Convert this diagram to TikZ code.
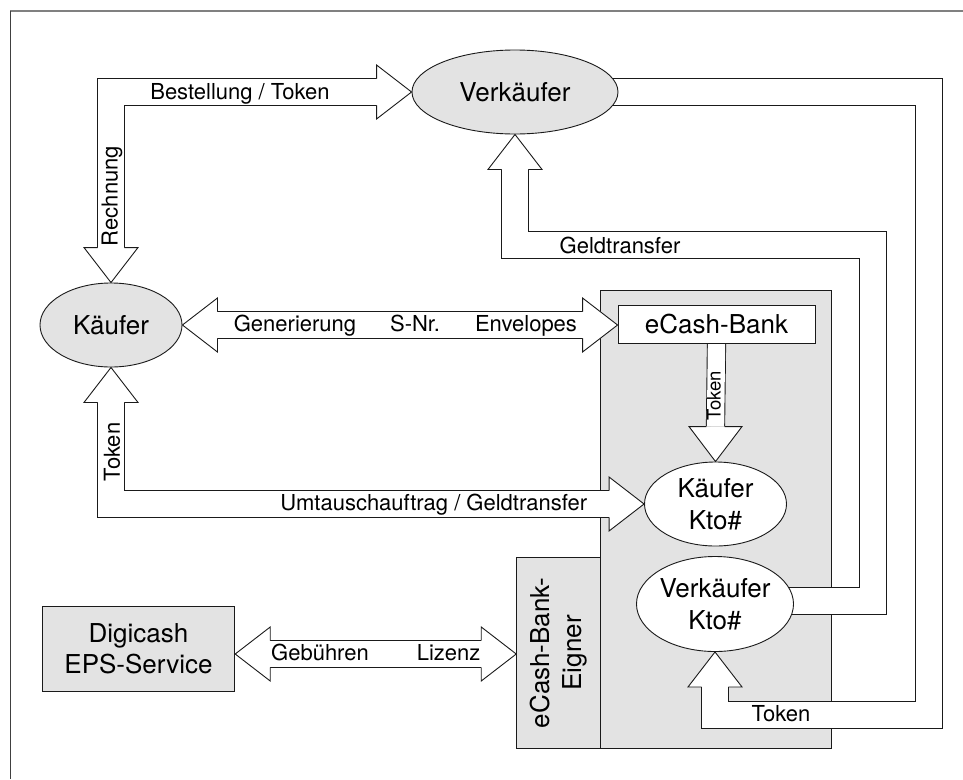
\documentclass[tikz,border=0pt]{standalone}
\usepackage{fontspec}
\setmainfont{TeX Gyre Heros}
\usetikzlibrary{calc,shapes.geometric}
\definecolor{boxgray}{HTML}{E3E3E3}
\definecolor{linecol}{HTML}{1A1A1A}
\newcommand{\lblfont}{\fontsize{22}{26}\selectfont}
\newcommand{\nodefont}{\fontsize{26}{31.5}\selectfont}
\newcommand{\tinyfont}{\fontsize{18.5}{21}\selectfont}
\def\ahl{35}\def\ahh{27}\def\ahw{13.4}
\pgfdeclarelayer{back}\pgfdeclarelayer{mid}\pgfsetlayers{back,mid,main}
\tikzset{
  ln/.style={draw=linecol, line width=0.9pt},
  grayell/.style={ellipse, ln, fill=boxgray, inner sep=0pt, font=\nodefont, align=center},
  whiteell/.style={ellipse, ln, fill=white, inner sep=0pt, font=\nodefont, align=center},
  graybox/.style={rectangle, ln, fill=boxgray, inner sep=0pt, font=\nodefont, align=center},
  whitebox/.style={rectangle, ln, fill=white, inner sep=0pt, font=\nodefont, align=center},
  lbl/.style={font=\lblfont, inner sep=0pt},
  shaft/.style={draw=linecol, line width=0.9pt, double=white, double distance=25.9pt, line join=miter},
  headstyle/.style={draw=linecol, line width=0.9pt, fill=white, line join=miter},
  headR/.pic={\filldraw[headstyle] (-\ahl,-\ahw) -- (-\ahl,-\ahh) -- (0,0) -- (-\ahl,\ahh) -- (-\ahl,\ahw);},
  headL/.pic={\filldraw[headstyle] (\ahl,-\ahw) -- (\ahl,-\ahh) -- (0,0) -- (\ahl,\ahh) -- (\ahl,\ahw);},
  headD/.pic={\filldraw[headstyle] (-\ahw,-\ahl) -- (-\ahh,-\ahl) -- (0,0) -- (\ahh,-\ahl) -- (\ahw,-\ahl);},
  headU/.pic={\filldraw[headstyle] (-\ahw,\ahl) -- (-\ahh,\ahl) -- (0,0) -- (\ahh,\ahl) -- (\ahw,\ahl);},
}
\begin{document}
\begin{tikzpicture}[x=1pt,y=-1pt]
\useasboundingbox (0,0) rectangle (963,779);
% frame
\draw[draw=gray, line width=1.6pt] (10.3,10.7) -- (963,10.7);
\draw[draw=black!75, line width=1.1pt] (10.3,10.7) -- (10.3,779);

% nodes
\node[grayell, minimum width=206pt, minimum height=84pt] (verk) at (515,92) {Verkäufer};
\node[grayell, minimum width=142pt, minimum height=84pt] (kaeufer) at (111,325) {Käufer};
\begin{pgfonlayer}{back}
\node[graybox, minimum width=231pt, minimum height=458.3pt] (bigbox) at (716.2,519.2) {};
\end{pgfonlayer}
\node[whitebox, minimum width=197pt, minimum height=38pt] (bank) at (716.5,324) {eCash-Bank};
\node[whiteell, minimum width=142pt, minimum height=84pt] (kkto) at (715.5,504) {Käufer\\Kto\#};
\node[whiteell, minimum width=142pt, minimum height=95pt] (vkto) at (715,604) {Verkäufer\\Kto\#};
\node[graybox, minimum width=84pt, minimum height=191pt] (eigner) at (558.7,652.8) {};
\node[font=\nodefont, align=center, rotate=90, inner sep=0pt] (eignertext) at (eigner.center) {eCash-Bank-\\Eigner};
\node[graybox, minimum width=192.5pt, minimum height=85pt] (digi) at (138.5,648.5) {Digicash\\EPS-Service};

% coordinates
\coordinate (gl) at ($(digi.east)+(0,5.5)$);
\coordinate (gr) at (eigner.west |- gl);
\coordinate (genl) at (kaeufer.east);
\coordinate (genr) at (bank.west |- kaeufer.east);
\coordinate (gstart) at ($(vkto.center)+(0,-3)$);
\coordinate (gcorner) at (873,245);
\coordinate (tstart) at (verk.center);
\coordinate (tcorner) at (929.3,715);

\begin{pgfonlayer}{mid}
% Bestellung / Rechnung
\draw[shaft] ($(kaeufer.north)+(0,-\ahl)$) |- ($(verk.west)+(-\ahl,0)$);
\pic at (kaeufer.north) {headD};
\pic at (verk.west) {headR};
% Generierung
\draw[shaft] ($(genl)+(\ahl,0)$) -- ($(genr)+(-\ahl,0)$);
\pic at (genl) {headL};
\pic at (genr) {headR};
% Token / Umtausch
\draw[shaft] ($(kaeufer.south)+(0,\ahl)$) |- ($(kkto.west)+(-\ahl,0)$);
\pic at (kaeufer.south) {headU};
\pic at (kkto.west) {headR};
% Geldtransfer
\draw[shaft] (gstart) -| (gcorner) -| ($(verk.south)+(0,\ahl)$);
\pic at (verk.south) {headU};
% Token right
\draw[shaft] (tstart) -| (tcorner) -| ($(vkto.south)+(0,\ahl)$);
\pic at (vkto.south) {headU};
% Token in bank (small)
\draw[draw=linecol, line width=0.9pt, double=white, double distance=17.4pt] (bank.south) -- ($(kkto.north)+(0,-\ahl)$);
\filldraw[headstyle] ($(kkto.north)+(-9.15,-\ahl)$) -- ($(kkto.north)+(-26.5,-\ahl)$) -- (kkto.north) -- ($(kkto.north)+(26.5,-\ahl)$) -- ($(kkto.north)+(9.15,-\ahl)$);
% Gebuehren
\draw[shaft] ($(gl)+(\ahl,0)$) -- ($(gr)+(-\ahl,0)$);
\pic at (gl) {headL};
\pic at (gr) {headR};
\end{pgfonlayer}

% labels
\node[lbl, anchor=base] (tbest) at (240,99.3) {Bestellung / Token};
\node[lbl, rotate=90] (trech) at (112,196) {Rechnung};
\node[lbl, anchor=base] (tgen) at (295,331.7) {Generierung};
\node[lbl, anchor=base] (tsnr) at (415,331.7) {S-Nr.};
\node[lbl, anchor=base] (tenv) at (526,331.7) {Envelopes};
\node[lbl, rotate=90] (ttok1) at (112,452) {Token};
\node[lbl, anchor=base] (tumt) at (433.7,510) {Umtauschauftrag / Geldtransfer};
\node[lbl, anchor=base] (tgeld) at (620,253.3) {Geldtransfer};
\node[lbl, anchor=base] (ttok2) at (781,721.7) {Token};
\node[font=\tinyfont, inner sep=0pt, rotate=90] (ttok3) at (714,395.5) {Token};
\node[lbl, anchor=base] (tgeb) at (320,660) {Gebühren};
\node[lbl, anchor=base] (tliz) at (448.6,660) {Lizenz};
\end{tikzpicture}
\end{document}
